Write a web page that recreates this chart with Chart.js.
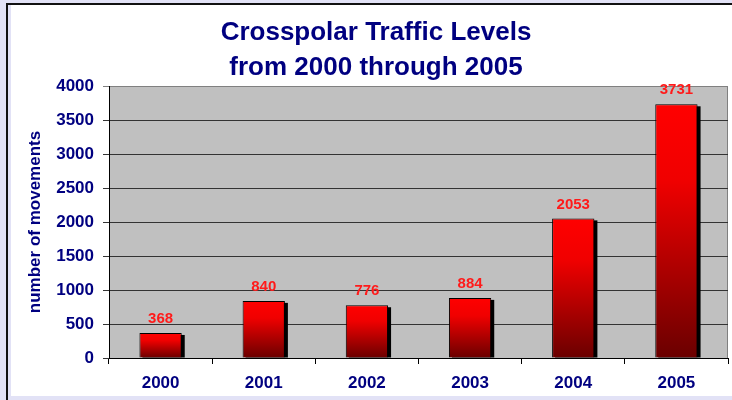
<!DOCTYPE html>
<html>
<head>
<meta charset="utf-8">
<script src="https://cdn.jsdelivr.net/npm/chart.js@4/dist/chart.umd.min.js"></script>
<style>
  html, body { margin: 0; padding: 0; }
  body { width: 732px; height: 400px; background: #e2e2f6; position: relative; overflow: hidden; }
  #frame { position: absolute; left: 11px; top: 5px; width: 721px; height: 391px; background: #ffffff; }
  #vline { position: absolute; left: 6px; top: 3px; width: 2px; height: 397px; background: #111111; }
  #hline { position: absolute; left: 6px; top: 3px; width: 726px; height: 2px; background: #111111; }
  #wrap { position: absolute; left: 0; top: 0; width: 732px; height: 400px; }
</style>
</head>
<body>
<div id="frame"></div>
<div id="vline"></div>
<div id="hline"></div>
<div id="wrap"><canvas id="c" width="732" height="400"></canvas></div>
<script>
const titleLines = ["Crosspolar Traffic Levels", "from 2000 through 2005"];
const yAxisTitle = "number of movements";
const years = ["2000", "2001", "2002", "2003", "2004", "2005"];
const movements = [368, 840, 776, 884, 2053, 3731];
const yTicks = [0, 500, 1000, 1500, 2000, 2500, 3000, 3500, 4000];

const NAVY = "#000080";
const FONT = "'Liberation Sans', Arial, sans-serif";

const plotBg = {
  id: "plotBg",
  beforeDraw(chart) {
    const { ctx, chartArea: a } = chart;
    ctx.save();
    ctx.fillStyle = "#c0c0c0";
    ctx.fillRect(a.left, a.top, a.right - a.left, a.bottom - a.top);
    ctx.strokeStyle = "#808080";
    ctx.lineWidth = 1;
    ctx.beginPath();
    ctx.moveTo(a.left, a.top + 0.5);
    ctx.lineTo(a.right - 0.5, a.top + 0.5);
    ctx.lineTo(a.right - 0.5, a.bottom);
    ctx.stroke();
    ctx.restore();
  }
};

const barShadow = {
  id: "barShadow",
  beforeDatasetsDraw(chart) {
    const { ctx, chartArea: a } = chart;
    const meta = chart.getDatasetMeta(0);
    ctx.save();
    ctx.beginPath();
    ctx.rect(a.left, a.top, a.right - a.left, a.bottom - a.top);
    ctx.clip();
    ctx.fillStyle = "#000000";
    meta.data.forEach(el => {
      const w = el.width;
      ctx.fillRect(el.x - w / 2 + 3, el.y + 2, w, el.base - el.y - 2);
    });
    ctx.restore();
  }
};

const valueLabels = {
  id: "valueLabels",
  afterDatasetsDraw(chart) {
    const { ctx } = chart;
    const meta = chart.getDatasetMeta(0);
    ctx.save();
    ctx.fillStyle = "#ff1a1a";
    ctx.font = "bold 15px " + FONT;
    ctx.textAlign = "center";
    ctx.textBaseline = "middle";
    meta.data.forEach((el, i) => {
      ctx.fillText(String(movements[i]), el.x, el.y - 14);
    });
    ctx.restore();
  }
};

function barGradient(context) {
  const chart = context.chart;
  const a = chart.chartArea;
  if (!a || context.type !== "data") return "#ff0000";
  const ys = chart.scales.y;
  const top = ys.getPixelForValue(context.raw);
  const bottom = ys.getPixelForValue(0);
  const g = chart.ctx.createLinearGradient(0, top, 0, bottom);
  g.addColorStop(0, "#ff0000");
  g.addColorStop(0.3, "#f00000");
  g.addColorStop(1, "#6a0000");
  return g;
}

new Chart(document.getElementById("c"), {
  type: "bar",
  data: {
    labels: years,
    datasets: [{
      data: movements,
      backgroundColor: barGradient,
      borderColor: "#000000",
      borderWidth: 1,
      borderSkipped: "bottom",
      barPercentage: 0.82,
      categoryPercentage: 0.5
    }]
  },
  options: {
    responsive: false,
    animation: false,
    devicePixelRatio: 1,
    layout: { padding: { left: 24, right: 4, top: 5, bottom: 0 } },
    plugins: {
      legend: { display: false },
      tooltip: { enabled: false },
      title: {
        display: true,
        text: titleLines,
        color: NAVY,
        font: { family: FONT, size: 26, weight: "bold", lineHeight: 1.327 },
        padding: { top: 10.75, bottom: 1.25 }
      }
    },
    scales: {
      x: {
        afterFit(scale) { scale.height = 42; },
        grid: {
          offset: true,
          drawOnChartArea: false,
          drawTicks: true,
          tickLength: 6,
          color: "#000000",
          lineWidth: 1
        },
        border: { color: "#000000", width: 1 },
        ticks: {
          color: NAVY,
          padding: 9,
          font: { family: FONT, size: 17, weight: "bold" }
        }
      },
      y: {
        min: 0,
        max: 4000,
        afterBuildTicks(scale) { scale.ticks = yTicks.map(v => ({ value: v })); },
        afterFit(scale) { scale.width = 85; },
        grid: {
          drawTicks: true,
          tickLength: 6,
          color: ctx => (ctx.tick && ctx.tick.value === 4000) ? "#808080" : "#333333",
          lineWidth: 1
        },
        border: { color: "#000000", width: 1 },
        ticks: {
          color: NAVY,
          padding: 9,
          font: { family: FONT, size: 17, weight: "bold" },
          callback: v => String(v)
        },
        title: {
          display: true,
          text: yAxisTitle,
          color: NAVY,
          padding: { top: 1, bottom: 0 },
          font: { family: FONT, size: 17, weight: "bold" }
        }
      }
    }
  },
  plugins: [plotBg, barShadow, valueLabels]
});
</script>
</body>
</html>
